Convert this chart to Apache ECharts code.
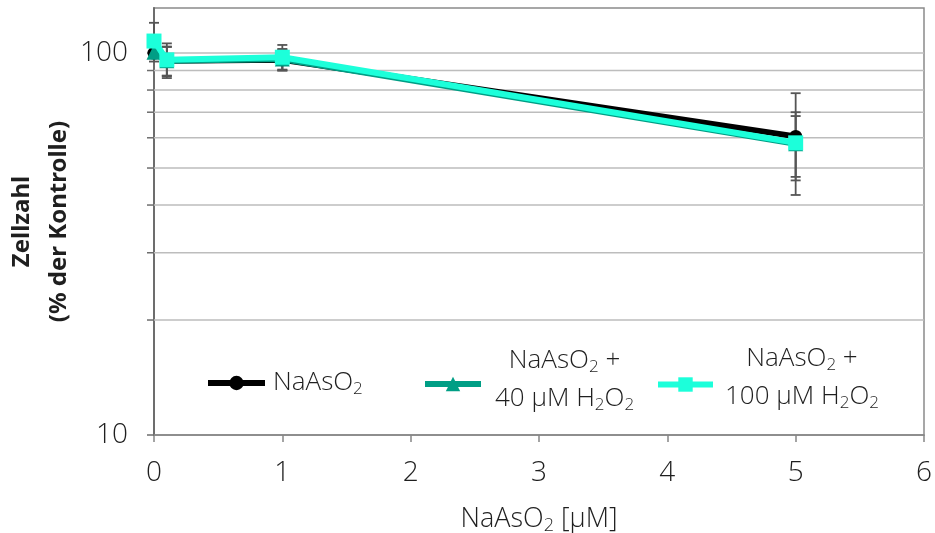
<!DOCTYPE html>
<html>
<head>
<meta charset="utf-8">
<script src="https://cdn.jsdelivr.net/npm/echarts@6/dist/echarts.min.js"></script>
<style>
  html, body { margin: 0; padding: 0; background: #ffffff; }
  #chart { width: 935px; height: 533px; }
</style>
</head>
<body>
<div id="chart"></div>
<script>
// NaAsO2 concentrations (µM)
const concentrations = [0, 0.1, 1, 5];

// Cell number, % of control
const cellsNaAsO2 = [100, 95.5, 96, 60.5];
const cellsH2O2_40 = [100.5, 95.5, 96.5, 57.9];
const cellsH2O2_100 = [107.5, 96, 97.5, 58.2];

// Standard deviations (same units)
const sdNaAsO2 = [0, 8.5, 6, 18];
const sdH2O2_40 = [0, 8.2, 6, 10.5];
const sdH2O2_100 = [12.5, 10, 7.5, 11.8];

// Series names
const seriesNames = ['NaAsO₂', 'NaAsO₂ + 40 µM H₂O₂', 'NaAsO₂ + 100 µM H₂O₂'];

// Axis ticks
const xTickLabels = [0, 1, 2, 3, 4, 5, 6];
const yTickLabels = [10, 100];
const gridValues = [10, 20, 30, 40, 50, 60, 70, 80, 90, 100];

const FONT = '"Open Sans", "Noto Sans", sans-serif';
const TEXT = '#1f1f1f';
const COLORS = ['#000000', '#009e85', '#1cffda'];

// rich-text styles: normal text and subscript
function richStyles(size, lineHeight) {
  return {
    n: { fontFamily: FONT, fontSize: size, fontWeight: 300, color: TEXT, lineHeight: lineHeight, align: 'center' },
    s: { fontFamily: FONT, fontSize: Math.round(size * 0.65), fontWeight: 300, color: TEXT,
         lineHeight: Math.round(size * 0.65), align: 'center', padding: [Math.round(size * 0.5), 0, 0, 0] }
  };
}

// "NaAsO₂" style strings -> rich markup with real subscripts
function toRich(str) {
  return str.split('\n').map(line => {
    let out = '';
    let buf = '';
    for (const ch of line) {
      if (ch === '₂') {
        if (buf) out += '{n|' + buf + '}';
        buf = '';
        out += '{s|2}';
      } else buf += ch;
    }
    if (buf) out += '{n|' + buf + '}';
    return out;
  }).join('\n');
}

const legendText = {
  [seriesNames[0]]: 'NaAsO₂',
  [seriesNames[1]]: 'NaAsO₂ +\n40 µM H₂O₂',
  [seriesNames[2]]: 'NaAsO₂ +\n100 µM H₂O₂'
};

const valueSets = [cellsNaAsO2, cellsH2O2_40, cellsH2O2_100];
const sdSets = [sdNaAsO2, sdH2O2_40, sdH2O2_100];
const symbols = ['circle', 'triangle', 'rect'];
const symbolSizes = [13, 15, 15];

// error-bar rows: [x, low, high]
const errorRows = [];
valueSets.forEach((vals, i) => {
  vals.forEach((v, j) => {
    const sd = sdSets[i][j];
    if (sd > 0) errorRows.push([concentrations[j], v - sd, v + sd]);
  });
});

const lineSeries = valueSets.map((vals, i) => ({
  type: 'line',
  name: seriesNames[i],
  data: concentrations.map((x, j) => [x, vals[j]]),
  symbol: symbols[i],
  symbolSize: symbolSizes[i],
  showSymbol: true,
  color: COLORS[i],
  itemStyle: { color: COLORS[i] },
  lineStyle: { color: COLORS[i], width: 6 },
  z: 3 + i,
  silent: true
}));

const legendCommon = {
  orient: 'horizontal',
  padding: 0,
  itemHeight: 18,
  selectedMode: false,
  lineStyle: { width: 6 },
  formatter: name => toRich(legendText[name])
};

const option = {
  animation: false,
  backgroundColor: '#ffffff',
  grid: {
    left: 154, right: 11, top: 8, bottom: 98,
    containLabel: false,
    outerBoundsMode: 'none',
    show: true, borderColor: '#8a8a8a', borderWidth: 1.5
  },
  xAxis: {
    type: 'value',
    min: 0, max: 6, interval: 1,
    name: toRich('NaAsO₂ [µM]'),
    nameLocation: 'middle',
    nameGap: 68,
    nameMoveOverlap: false,
    nameTextStyle: { rich: richStyles(27, 32) },
    axisLine: { show: true, lineStyle: { color: '#868686', width: 1.5 } },
    axisTick: { show: true, inside: false, length: 7, lineStyle: { color: '#868686', width: 1.5 } },
    axisLabel: {
      margin: 24, fontSize: 28, fontFamily: FONT, fontWeight: 300, color: TEXT,
      formatter: v => {
        const t = xTickLabels.find(k => Math.abs(k - v) < 1e-9);
        return t === undefined ? '' : String(t);
      }
    },
    splitLine: { show: false }
  },
  yAxis: {
    type: 'log',
    logBase: 10,
    min: 10, max: 131.2,
    name: 'Zellzahl\n(% der Kontrolle)',
    nameLocation: 'middle',
    nameRotate: 90,
    nameGap: 76,
    nameMoveOverlap: false,
    nameTextStyle: {
      fontFamily: '"Noto Sans", sans-serif', fontWeight: 'bold', fontSize: 24,
      color: TEXT, lineHeight: 37, align: 'center'
    },
    axisLine: { show: true, lineStyle: { color: '#6d6d6d', width: 2 } },
    axisTick: { show: false },
    splitLine: { show: false },
    axisLabel: {
      margin: 26, fontSize: 28, fontFamily: FONT, fontWeight: 300, color: TEXT,
      showMaxLabel: false,
      formatter: v => {
        const t = yTickLabels.find(k => Math.abs(k - v) < 1e-6 * k);
        return t === undefined ? '' : String(t);
      }
    }
  },
  legend: [
    Object.assign({}, legendCommon, {
      data: [seriesNames[0]], left: 205, top: 368, itemWidth: 57,
      textStyle: { rich: richStyles(26, 38), padding: [0, 0, 0, 3] }
    }),
    Object.assign({}, legendCommon, {
      data: [seriesNames[1]], left: 422, top: 346, itemWidth: 56,
      textStyle: { rich: richStyles(26, 38), padding: [0, 0, 8, 9] }
    }),
    Object.assign({}, legendCommon, {
      data: [seriesNames[2]], left: 655, top: 344, itemWidth: 55,
      textStyle: { rich: richStyles(26, 38), padding: [0, 0, 13, 7] }
    })
  ],
  series: [
    // horizontal gridlines and outward ticks on the log axis
    {
      type: 'custom',
      silent: true,
      clip: false,
      z: 1,
      data: gridValues.map(v => [0, v]),
      encode: { x: 0, y: 1 },
      renderItem: (params, api) => {
        const cs = params.coordSys;
        const y = api.coord([0, api.value(1)])[1];
        const children = [];
        if (api.value(1) > 10) {
          children.push({
            type: 'line',
            shape: { x1: cs.x, y1: y, x2: cs.x + cs.width, y2: y },
            style: { stroke: '#bdbdbd', lineWidth: 1.5 }
          });
        }
        children.push({
          type: 'line',
          shape: { x1: cs.x - 7, y1: y, x2: cs.x, y2: y },
          style: { stroke: '#6d6d6d', lineWidth: 1.5 }
        });
        return { type: 'group', children };
      }
    },
    // error bars (± SD)
    {
      type: 'custom',
      silent: true,
      z: 2,
      data: errorRows,
      encode: { x: 0, y: [1, 2] },
      renderItem: (params, api) => {
        const lo = api.coord([api.value(0), api.value(1)]);
        const hi = api.coord([api.value(0), api.value(2)]);
        const cap = 5;
        const st = { stroke: '#555555', lineWidth: 1.8 };
        return {
          type: 'group',
          children: [
            { type: 'line', shape: { x1: lo[0], y1: lo[1], x2: hi[0], y2: hi[1] }, style: st },
            { type: 'line', shape: { x1: lo[0] - cap, y1: lo[1], x2: lo[0] + cap, y2: lo[1] }, style: st },
            { type: 'line', shape: { x1: hi[0] - cap, y1: hi[1], x2: hi[0] + cap, y2: hi[1] }, style: st }
          ]
        };
      }
    }
  ].concat(lineSeries)
};

const chart = echarts.init(document.getElementById('chart'), null, { renderer: 'canvas' });
chart.setOption(option);
</script>
</body>
</html>
